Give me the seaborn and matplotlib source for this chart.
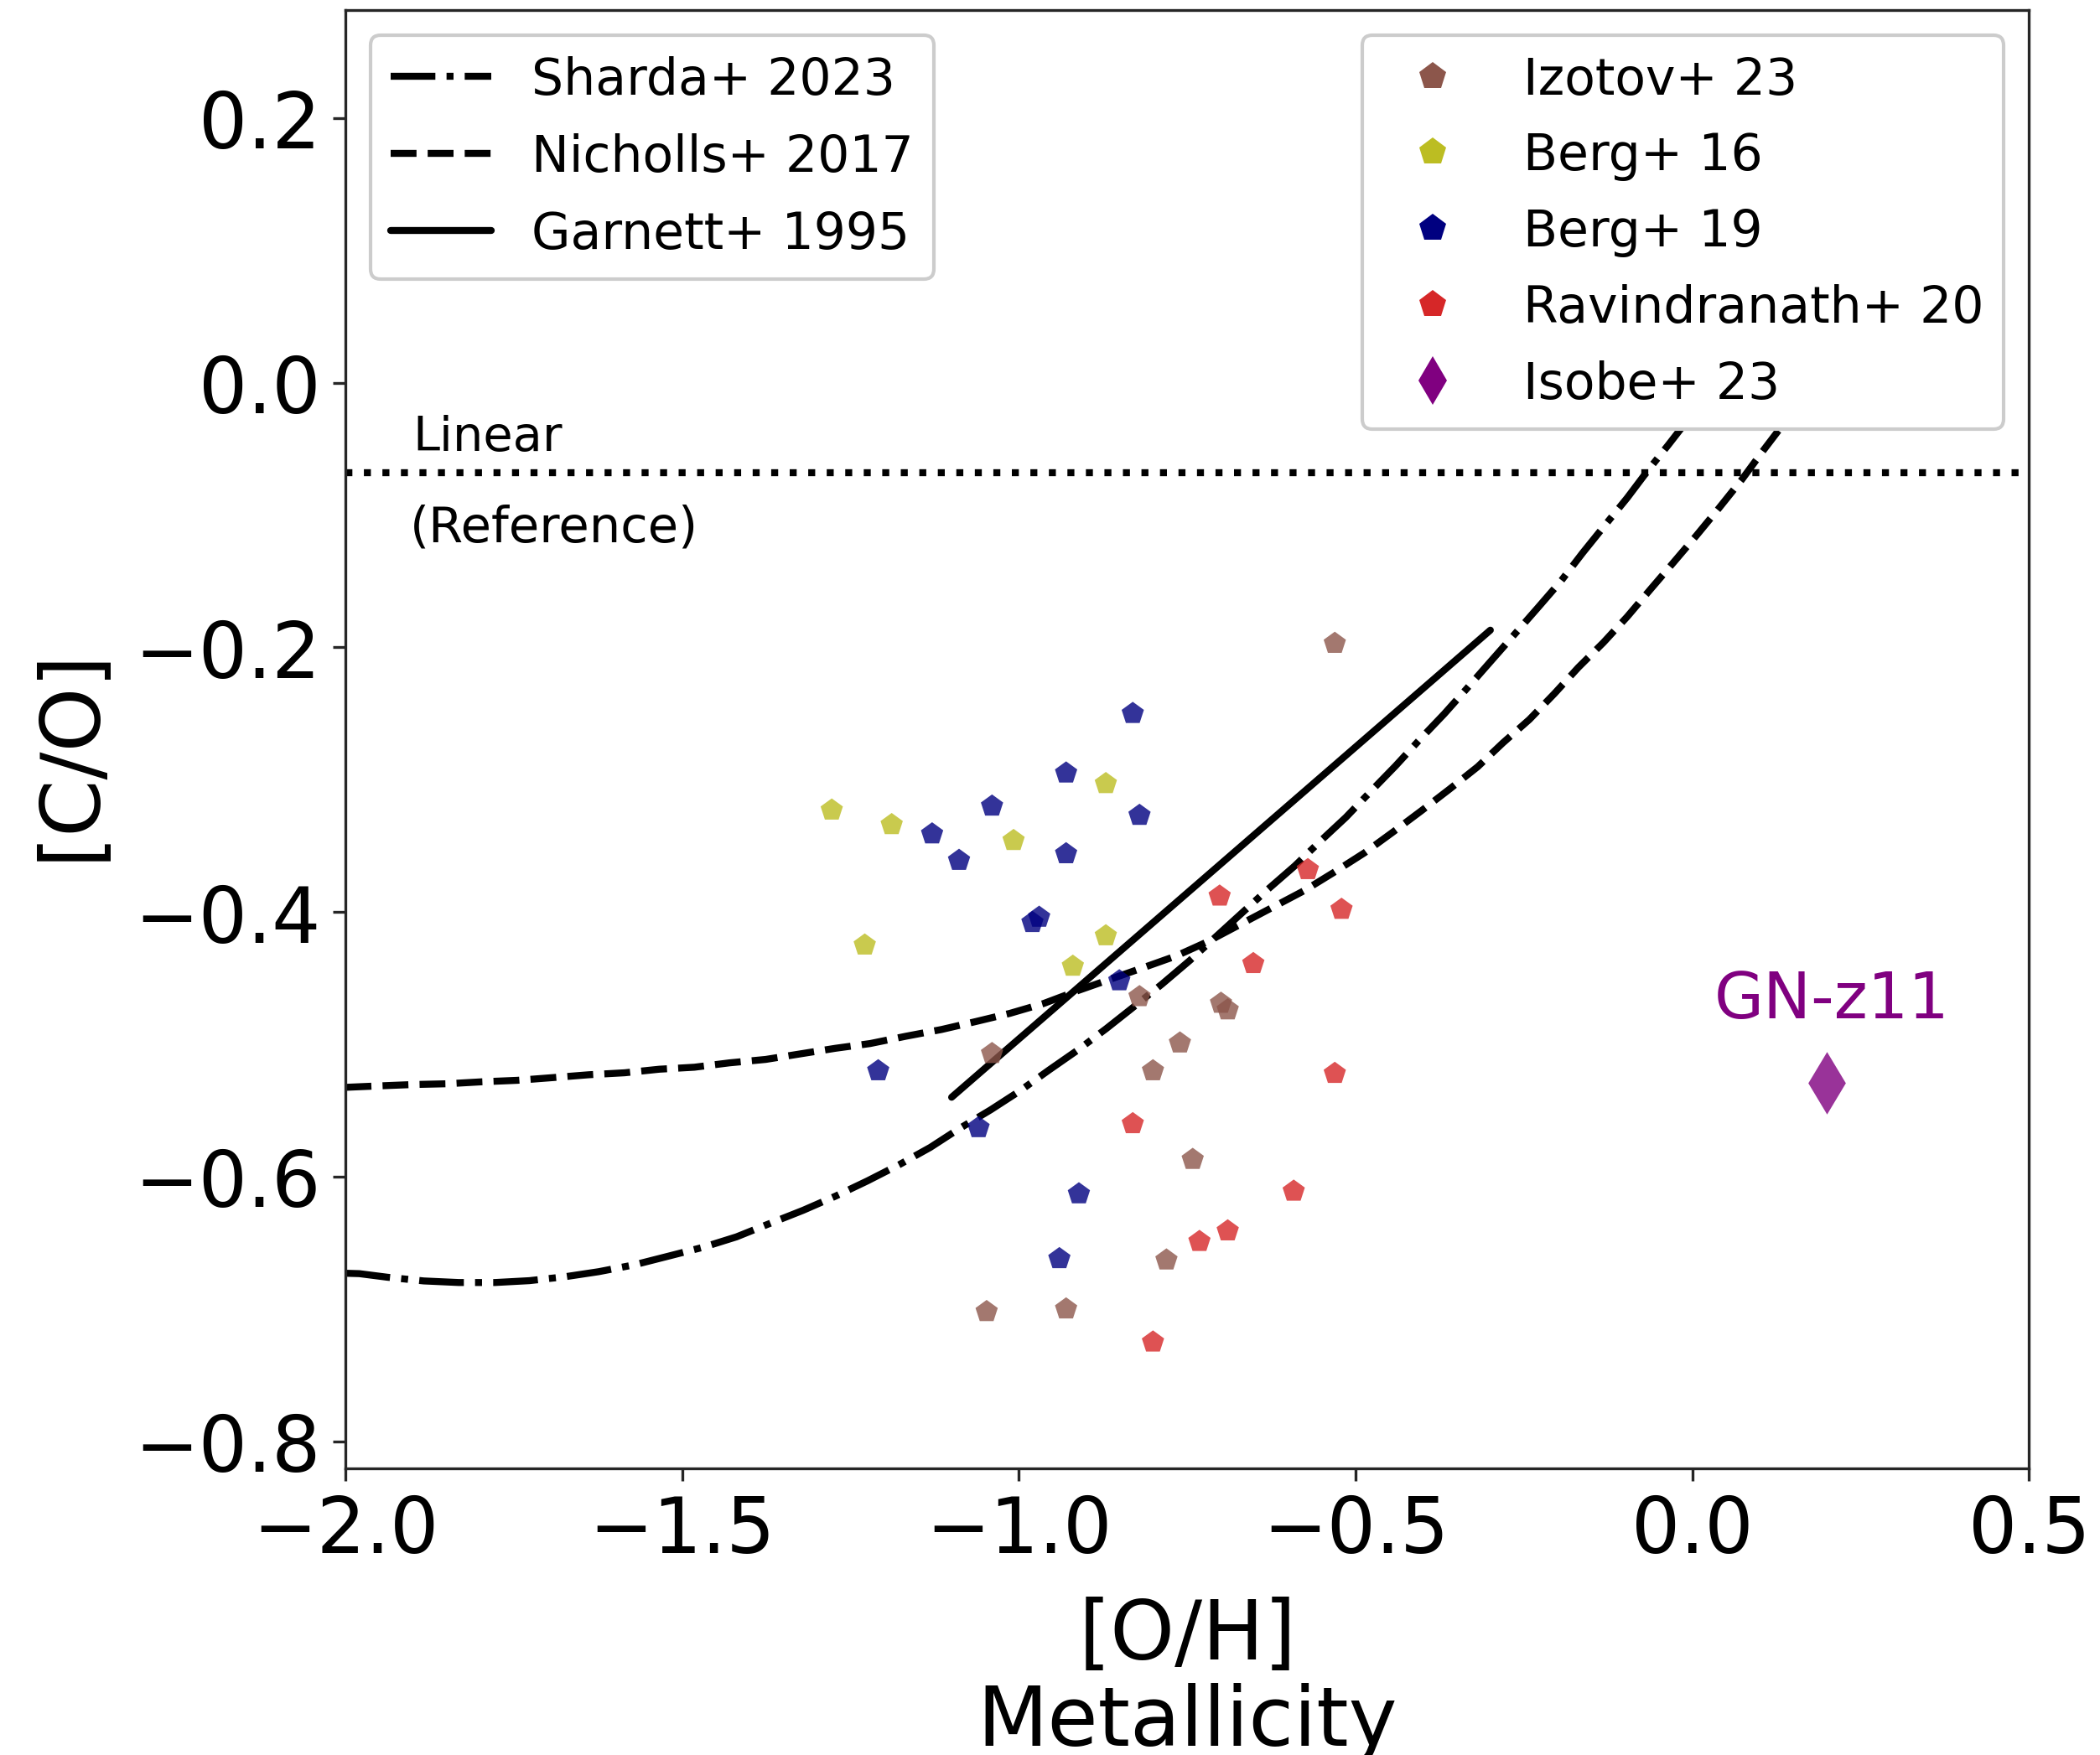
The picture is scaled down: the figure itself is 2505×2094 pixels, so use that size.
import matplotlib
matplotlib.use("Agg")
import matplotlib.pyplot as plt
from matplotlib.lines import Line2D
import numpy as np
import pandas as pd
import seaborn as sns

# ---- observed samples: [O/H] (x) and [C/O] (y) ----
izotov23_oh = [-0.531, -0.821, -0.700, -0.690, -1.040, -0.761, -0.801, -0.742, -0.781, -1.048, -0.930]
izotov23_co = [-0.197, -0.464, -0.469, -0.474, -0.507, -0.499, -0.520, -0.587, -0.663, -0.702, -0.700]

berg16_oh = [-1.278, -1.189, -1.008, -0.871, -1.229, -0.871, -0.920]
berg16_co = [-0.323, -0.334, -0.346, -0.303, -0.425, -0.418, -0.441]

berg19_oh = [-0.831, -0.930, -1.040, -0.821, -1.129, -1.089, -0.930, -0.970, -0.980,
             -0.851, -1.209, -1.060, -0.911, -0.940]
berg19_co = [-0.250, -0.295, -0.320, -0.327, -0.341, -0.361, -0.356, -0.404, -0.408,
             -0.452, -0.520, -0.563, -0.613, -0.662]

ravindranath20_oh = [-0.702, -0.571, -0.521, -0.652, -0.531, -0.831, -0.592, -0.690, -0.732, -0.801]
ravindranath20_co = [-0.388, -0.368, -0.398, -0.439, -0.522, -0.560, -0.611, -0.641, -0.649, -0.725]

gnz11_oh = [0.20]
gnz11_co = [-0.529]

# ---- model / empirical relations ----
sharda23_oh = [-2.0, -1.9795, -1.938, -1.884, -1.832, -1.778, -1.727, -1.675, -1.624, -1.571,
               -1.520, -1.4685, -1.4195, -1.376, -1.3204, -1.2727, -1.225, -1.178, -1.1317,
               -1.0902, -1.0417, -0.9989, -0.9553, -0.9118, -0.8703, -0.8338, -0.7874, -0.746,
               -0.6298, -0.5903, -0.553, -0.5144, -0.4783, -0.441, -0.4049, -0.3685, -0.334,
               -0.2988, -0.2647, -0.2294, -0.195, -0.1631, -0.130, -0.0967, -0.0656, -0.0357, 0.03]
sharda23_co = [-0.673, -0.6733, -0.676, -0.6788, -0.680, -0.680, -0.6786, -0.6757, -0.6718, -0.6666,
               -0.660, -0.6533, -0.6455, -0.6366, -0.6254, -0.6148, -0.6032, -0.591, -0.5779,
               -0.5642, -0.5494, -0.5353, -0.5194, -0.504, -0.4881, -0.4734, -0.4544, -0.4365,
               -0.3826, -0.3651, -0.3467, -0.3284, -0.3092, -0.2897, -0.2697, -0.2503, -0.2306,
               -0.2102, -0.1905, -0.170, -0.1498, -0.1287, -0.1078, -0.087, -0.066, -0.047, -0.004]

nicholls17_oh = [-2.0, -1.9546, -1.9007, -1.849, -1.797, -1.745, -1.691, -1.639, -1.5855, -1.534,
                 -1.482, -1.430, -1.376, -1.3245, -1.2727, -1.2209, -1.168, -1.115, -1.065,
                 -1.0135, -0.9637, -0.912, -0.814, -0.767, -0.721, -0.5759, -0.5322, -0.4867,
                 -0.4452, -0.4024, -0.361, -0.3187, -0.2814, -0.242, -0.2046, -0.1694, -0.132,
                 -0.0967, -0.0615, -0.0283, 0.0058, 0.0393, 0.0733, 0.1053, 0.17]
nicholls17_co = [-0.5325, -0.5315, -0.5304, -0.5298, -0.5283, -0.5272, -0.5251, -0.523, -0.5215, -0.5188,
                 -0.5173, -0.514, -0.5114, -0.5072, -0.503, -0.4994, -0.4939, -0.4888, -0.4829,
                 -0.4766, -0.4692, -0.4593, -0.4418, -0.4333, -0.4227, -0.3837, -0.370, -0.3552,
                 -0.3398, -0.3235, -0.3073, -0.2902, -0.2722, -0.2545, -0.2348, -0.2152, -0.1963,
                 -0.1768, -0.1557, -0.136, -0.1156, -0.0949, -0.0733, -0.0512, -0.008]

garnett95_oh = [-1.10, -0.30]
garnett95_co = [-0.540, -0.187]

linear_reference_co = -0.068

sample_names = ["Izotov+ 23", "Berg+ 16", "Berg+ 19", "Ravindranath+ 20", "Isobe+ 23"]
sample_colors = ["tab:brown", "tab:olive", "navy", "tab:red", "purple"]
relation_names = ["Sharda+ 2023", "Nicholls+ 2017", "Garnett+ 1995"]
x_ticks = [-2.0, -1.5, -1.0, -0.5, 0.0, 0.5]
y_ticks = [-0.8, -0.6, -0.4, -0.2, 0.0, 0.2]

sns.set_style("ticks")
plt.rcParams["font.family"] = ["DejaVu Sans"]
plt.rcParams["axes.linewidth"] = 0.8
plt.rcParams["text.color"] = "black"
plt.rcParams["axes.labelcolor"] = "black"
plt.rcParams["xtick.labelcolor"] = "black"
plt.rcParams["ytick.labelcolor"] = "black"

fig = plt.figure(figsize=(8.35, 6.983), dpi=300)
ax = fig.add_axes([0.16455, 0.16344, 0.80168, 0.83055])

# relations
sharda_df = pd.DataFrame({"oh": sharda23_oh, "co": sharda23_co})
nicholls_df = pd.DataFrame({"oh": nicholls17_oh, "co": nicholls17_co})
garnett_df = pd.DataFrame({"oh": garnett95_oh, "co": garnett95_co})
sns.lineplot(data=sharda_df, x="oh", y="co", color="black", linestyle="-.", lw=2,
             sort=False, estimator=None, ax=ax)
sns.lineplot(data=nicholls_df, x="oh", y="co", color="black", linestyle="--", lw=2,
             sort=False, estimator=None, ax=ax)
sns.lineplot(data=garnett_df, x="oh", y="co", color="black", linestyle="-", lw=2,
             sort=False, estimator=None, ax=ax)
ax.axhline(linear_reference_co, color="black", linestyle=":", lw=2)

# observed samples
obs = pd.DataFrame({
    "oh": izotov23_oh + berg16_oh + berg19_oh + ravindranath20_oh,
    "co": izotov23_co + berg16_co + berg19_co + ravindranath20_co,
    "sample": ([sample_names[0]] * len(izotov23_oh) + [sample_names[1]] * len(berg16_oh)
               + [sample_names[2]] * len(berg19_oh) + [sample_names[3]] * len(ravindranath20_oh)),
})
palette = dict(zip(sample_names, sample_colors))
sns.scatterplot(data=obs, x="oh", y="co", hue="sample", palette=palette, marker="p",
                s=45, alpha=0.8, linewidth=0, legend=False, ax=ax, zorder=3)
gn = pd.DataFrame({"oh": gnz11_oh, "co": gnz11_co})
sns.scatterplot(data=gn, x="oh", y="co", color="purple", marker="d", s=160, alpha=0.8,
                linewidth=0, legend=False, ax=ax, zorder=3)

ax.text(gnz11_oh[0] + 0.007, -0.480, "GN-z11", color="purple", fontsize=18.3,
        ha="center", va="baseline")
ax.text(-1.90, -0.051, "Linear", fontsize=13.8, color="black", ha="left", va="baseline")
ax.text(-1.905, -0.120, "(Reference)", fontsize=14.2, color="black", ha="left", va="baseline")

ax.set_xlim(-2.0, 0.5)
ax.set_ylim(-0.8202, 0.2818)
ax.set_xticks(x_ticks)
ax.set_yticks(y_ticks)
ax.tick_params(labelsize=22, length=3.5, width=0.8, color=".15", labelcolor="black")
for side in ["top", "right", "left", "bottom"]:
    ax.spines[side].set_visible(True)
    ax.spines[side].set_linewidth(0.8)
ax.set_xlabel("[O/H]\nMetallicity", fontsize=23.5, linespacing=1.1, labelpad=8)
ax.set_ylabel("[C/O]", fontsize=23.5, labelpad=7)
ax.yaxis.label.set_y(0.4903)

# legends
line_handles = [
    Line2D([], [], color="black", linestyle="-.", lw=2),
    Line2D([], [], color="black", linestyle="--", lw=2),
    Line2D([], [], color="black", linestyle="-", lw=2),
]
leg1 = ax.legend(line_handles, relation_names, loc="upper left", fontsize=14.4,
                 framealpha=1.0, edgecolor="0.8", labelspacing=0.55)
ax.add_artist(leg1)

marker_handles = [Line2D([], [], linestyle="none", marker="p", markersize=8.2,
                         markerfacecolor=c, markeredgewidth=0) for c in sample_colors[:4]]
marker_handles.append(Line2D([], [], linestyle="none", marker="d", markersize=9.8,
                             markerfacecolor=sample_colors[4], markeredgewidth=0))
leg2 = ax.legend(marker_handles, sample_names, loc="upper right", fontsize=14.4,
                 framealpha=1.0, edgecolor="0.8", labelspacing=0.53)

fig.savefig("out.png", dpi=300)
